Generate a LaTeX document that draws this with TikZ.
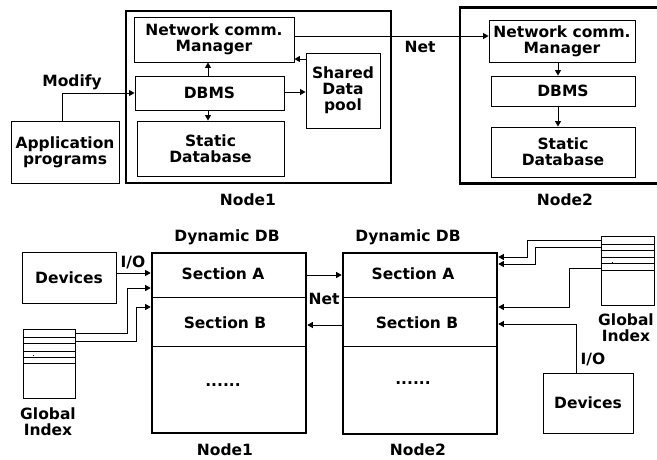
\documentclass[tikz,border=0pt]{standalone}
\usepackage{fontspec}
\setmainfont{DejaVu Sans}
\usetikzlibrary{arrows.meta}
\begin{document}
\begin{tikzpicture}[x=1pt,y=-1pt,
  font=\fontsize{15.5}{16}\selectfont\bfseries,
  box/.style={draw,line width=0.9pt,inner sep=0pt,align=center},
  frame/.style={draw,line width=2.6pt,inner sep=0pt},
  lbl/.style={inner sep=0pt,align=center},
  arr/.style={line width=0.9pt,-{Triangle[length=5.5pt,width=6pt]}},
  gline/.style={line width=0.9pt}]
\useasboundingbox (0,0) rectangle (657,460);

% ---------- upper part: node architecture ----------
\node[frame,minimum width=265pt,minimum height=172pt] (n1) at (258.5,97) {};
% the second node's frame is open on the right margin
\node[inner sep=0pt,minimum width=200pt,minimum height=175pt] (n2) at (560,95.5) {};
\draw[line width=2.6pt] (n2.north east) -- (n2.north west) -- (n2.south west) -- (n2.south east);

\node[box,minimum width=160pt,minimum height=45pt] (ncm1) at (214,39.5) {Network comm.\\Manager};
\node[box,minimum width=149pt,minimum height=34pt] (dbms1) at (209.5,93) {DBMS};
\node[box,minimum width=147pt,minimum height=55pt] (st1) at (210.5,148.5) {Static\\Database};
\node[box,minimum width=74pt,minimum height=75pt] (pool) at (343,90.5) {Shared\\Data\\pool};
\node[box,minimum width=108pt,minimum height=62pt] (app) at (65,152) {Application\\programs};

\node[box,minimum width=146pt,minimum height=42pt] (ncm2) at (562,41) {Network comm.\\Manager};
\node[box,minimum width=144pt,minimum height=30pt] (dbms2) at (563,91) {DBMS};
\node[box,minimum width=144pt,minimum height=50pt] (st2) at (563,152) {Static\\Database};

\node[lbl] (modify) at (72,82) {Modify};
\node[lbl] (net1) at (420,47) {Net};
\node[lbl] (lab1) at (248,200) {Node1};
\node[lbl] (lab2) at (565,200) {Node2};

\draw[arr] (app.north -| 62,0) |- (dbms1.west);
\draw[arr] (dbms1.north -| 208,0) -- (ncm1.south -| 208,0);
\draw[arr] (dbms1.south -| 208,0) -- (st1.north -| 208,0);
\draw[arr] (dbms1.east |- 0,92) -- (pool.west |- 0,92);
\draw[arr] (pool.west |- 0,59) -- (ncm1.east |- 0,59);
\draw[arr] (ncm1.east |- 0,36) -- (ncm2.west |- 0,36);
\draw[arr] (ncm2.south -| 558,0) -- (dbms2.north -| 558,0);
\draw[arr] (dbms2.south -| 558,0) -- (st2.north -| 558,0);

% ---------- lower part: dynamic databases ----------
\node[frame,minimum width=154pt,minimum height=180pt] (db1) at (229,343) {};
\node[frame,minimum width=154pt,minimum height=181pt] (db2) at (420,343.5) {};
\draw[gline] (db1.west |- 0,297) -- (db1.east |- 0,297);
\draw[gline] (db1.west |- 0,346) -- (db1.east |- 0,346);
\draw[gline] (db2.west |- 0,297) -- (db2.east |- 0,297);
\draw[gline] (db2.west |- 0,346) -- (db2.east |- 0,346);

\node[lbl] (dyn1) at (227,237) {Dynamic DB};
\node[lbl] (dyn2) at (408,237) {Dynamic DB};
\node[lbl] (sa1) at (223,274) {Section A};
\node[lbl] (sb1) at (225,323) {Section B};
\node[lbl] (dots1) at (223,385) {......};
\node[lbl] (sa2) at (413,274) {Section A};
\node[lbl] (sb2) at (417,323) {Section B};
\node[lbl] (dots2) at (413,383) {......};
\node[lbl] (lab3) at (225,450) {Node1};
\node[lbl] (lab4) at (418,450) {Node2};
\node[lbl] (net2) at (324,299) {Net};

\node[box,minimum width=94pt,minimum height=51pt] (dev1) at (69,277.5) {Devices};
\node[box,minimum width=90pt,minimum height=60pt] (dev2) at (588,403) {Devices};
\node[lbl] (io1) at (133,262) {I/O};
\node[lbl] (io2) at (593,359) {I/O};

% global index tables
\node[box,minimum width=52pt,minimum height=69pt] (gi1) at (49,363.5) {};
\foreach \yy in {337,343,351,357,363}
  \draw[gline] (gi1.west |- 0,\yy) -- (gi1.east |- 0,\yy);
\fill (33,354.5) rectangle (34.2,355.7);
\node[box,minimum width=53pt,minimum height=69pt] (gi2) at (627.5,270.5) {};
\foreach \yy in {244,250,257,263,270}
  \draw[gline] (gi2.west |- 0,\yy) -- (gi2.east |- 0,\yy);
\fill (612,261.5) rectangle (613.2,262.7);
\node[lbl] (gil1) at (48,422) {Global\\Index};
\node[lbl] (gil2) at (626,328) {Global\\Index};

% links into the first dynamic database
\draw[arr] (dev1.east |- 0,273) -- (db1.west |- 0,273);
\draw[arr] (gi1.east |- 0,333) -| (127,288) -- (db1.west |- 0,288);
\draw[arr] (gi1.east |- 0,341) -| (136,307) -- (db1.west |- 0,307);

% net links between the two databases
\draw[arr] (db1.east |- 0,275) -- (db2.west |- 0,275);
\draw[arr] (db2.west |- 0,325) -- (db1.east |- 0,325);

% links into the second dynamic database
\draw[arr] (gi2.west |- 0,240) -| (527,257) -- (db2.east |- 0,257);
\draw[arr] (gi2.west |- 0,247) -| (535,264) -- (db2.east |- 0,264);
\draw[arr] (gi2.west |- 0,268) -| (569,307) -- (db2.east |- 0,307);
\draw[arr] (dev2.north -| 576,0) |- (db2.east |- 0,324);
\end{tikzpicture}
\end{document}
